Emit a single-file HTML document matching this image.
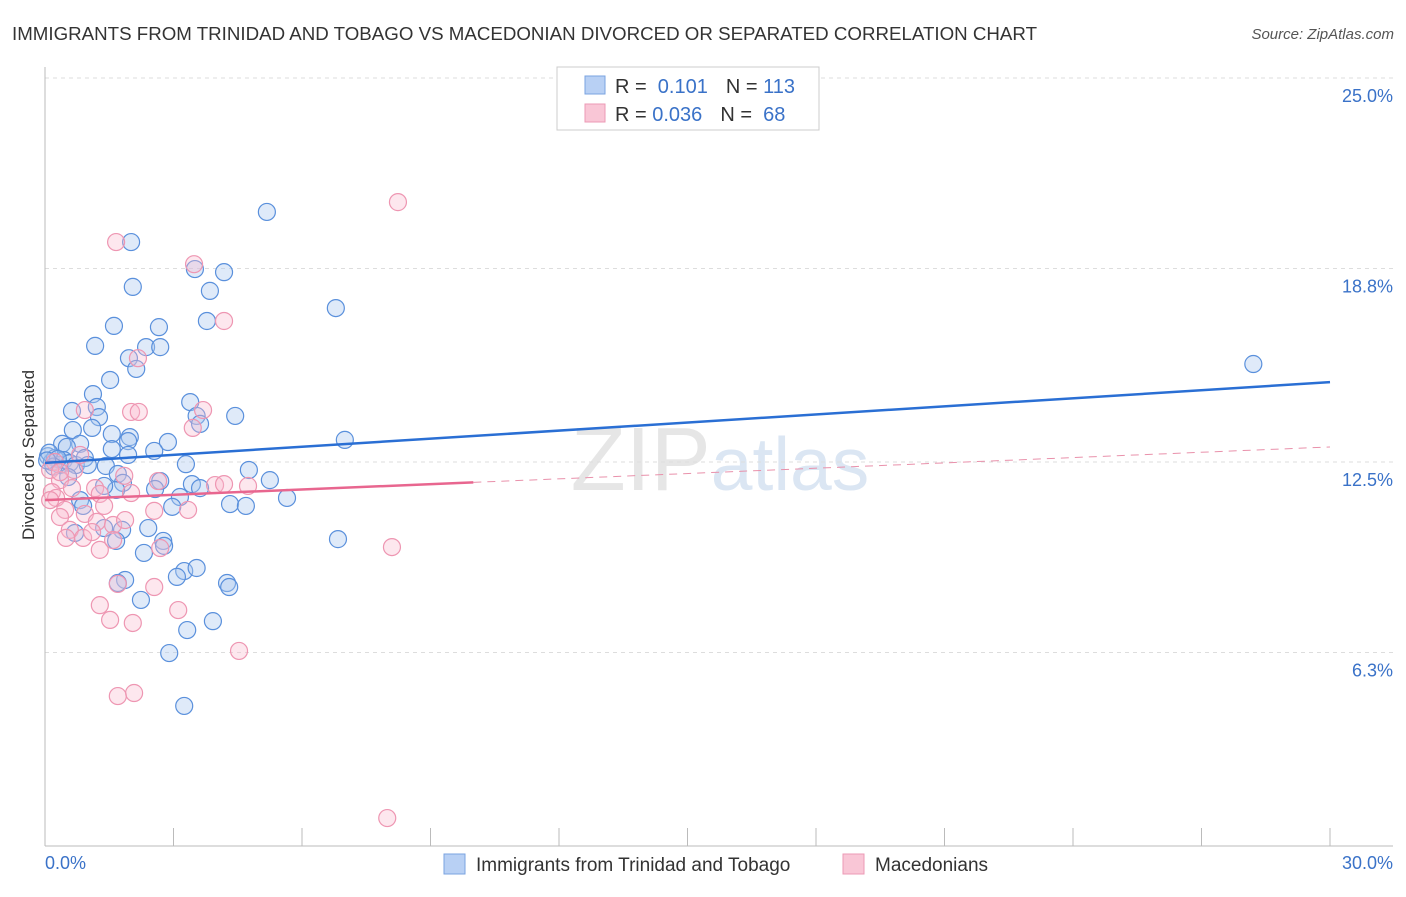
<!DOCTYPE html>
<html><head><meta charset="utf-8"><style>
body{margin:0;background:#fff;font-family:"Liberation Sans",sans-serif;}
svg text{font-family:"Liberation Sans",sans-serif;}
</style></head><body>
<svg width="1406" height="892" viewBox="0 0 1406 892">
<text x="12" y="40" font-size="18" fill="#333" textLength="1025" lengthAdjust="spacingAndGlyphs">IMMIGRANTS FROM TRINIDAD AND TOBAGO VS MACEDONIAN DIVORCED OR SEPARATED CORRELATION CHART</text>
<text x="1394" y="39" font-size="15" fill="#555" text-anchor="end" font-style="italic">Source: ZipAtlas.com</text>
<text x="720" y="490" font-size="90" fill="#e6e6e6" text-anchor="middle" font-family="Liberation Serif">ZIP<tspan fill="#dbe6f3" font-family="Liberation Sans" font-size="75">atlas</tspan></text>
<g id="grid"></g>
<g id="axes"></g>
<g id="marks"></g>
<g id="trends"></g>
<text transform="translate(34,455) rotate(-90)" font-size="17" fill="#333" text-anchor="middle">Divorced or Separated</text>
<text x="45" y="869" font-size="18" fill="#3a72c8">0.0%</text>
<text x="1393" y="869" font-size="18" fill="#3a72c8" text-anchor="end">30.0%</text>
<g>
<rect x="557" y="67" width="262" height="63" fill="#fff" stroke="#ccc"/>
<rect x="585" y="76" width="20" height="18" fill="#b8d0f4" stroke="#7aa3e0"/>
<rect x="585" y="104" width="20" height="18" fill="#f9c6d6" stroke="#ec9ab5"/>
<text x="615" y="93" font-size="20" fill="#333">R = <tspan fill="#3a72c8">&#160;0.101</tspan><tspan dx="18">N = </tspan><tspan fill="#3a72c8">113</tspan></text>
<text x="615" y="121" font-size="20" fill="#333">R = <tspan fill="#3a72c8">0.036</tspan><tspan dx="18">N = </tspan><tspan fill="#3a72c8">&#160;68</tspan></text>
</g>
<g>
<rect x="444" y="854" width="21" height="20" fill="#b8d0f4" stroke="#7aa3e0"/>
<text x="476" y="871" font-size="19" fill="#333">Immigrants from Trinidad and Tobago</text>
<rect x="843" y="854" width="21" height="20" fill="#f9c6d6" stroke="#ec9ab5"/>
<text x="875" y="871" font-size="19" fill="#333">Macedonians</text>
</g>
</svg>
<script>
const yTicks=[25.0,18.8,12.5,6.3];
const yTickLabels=["25.0%","18.8%","12.5%","6.3%"];
const xTicks=[3,6,9,12,15,18,21,24,27,30];
const blueX=[5.18,2.01,4.18,3.50,2.05,3.85,6.79,1.61,2.66,3.78,1.17,2.36,2.69,1.96,2.13,1.52,1.12,3.39,0.63,1.21,4.44,3.54,1.26,3.62,1.10,0.65,1.56,1.98,1.94,2.87,7.00,0.40,0.82,0.51,1.56,2.55,1.94,0.07,0.16,0.23,0.35,0.44,0.58,0.72,0.93,1.00,1.42,3.29,4.76,1.70,0.54,5.25,2.69,1.82,2.57,3.43,3.62,1.66,1.38,3.15,5.65,4.32,4.69,2.97,0.82,0.89,2.41,1.38,1.80,0.70,1.66,2.76,6.84,2.78,2.31,3.25,3.54,3.08,1.87,1.70,4.25,4.30,2.24,3.32,3.92,2.90,3.25,28.21,0.10,0.30,0.20,0.05];
const blueY=[20.64,19.66,18.68,18.78,18.20,18.07,17.51,16.93,16.89,17.09,16.28,16.24,16.24,15.88,15.53,15.17,14.71,14.45,14.16,14.29,14.00,14.00,13.96,13.74,13.61,13.54,13.41,13.31,13.18,13.15,13.22,13.09,13.09,12.99,12.92,12.86,12.73,12.69,12.50,12.63,12.40,12.56,12.47,12.40,12.63,12.40,12.37,12.43,12.24,12.11,12.01,11.91,11.88,11.82,11.62,11.78,11.65,11.59,11.72,11.36,11.33,11.13,11.07,11.04,11.26,11.07,10.35,10.35,10.29,10.19,9.93,9.93,9.99,9.77,9.54,8.95,9.05,8.76,8.66,8.56,8.56,8.43,8.01,7.03,7.32,6.28,4.56,15.69,12.80,12.60,12.35,12.55];
const pinkX=[8.24,1.66,3.48,4.18,2.17,2.01,2.19,0.93,3.69,3.45,0.23,0.12,0.35,0.16,0.26,0.63,1.17,1.28,1.85,2.01,2.64,3.97,4.18,4.74,3.34,2.55,1.38,0.47,0.35,0.93,1.21,1.59,1.87,0.58,0.89,0.49,1.10,1.28,1.59,2.69,8.10,1.70,2.55,1.28,3.11,1.52,2.05,4.53,2.08,1.70,7.99,0.68,0.82,0.35,0.12];
const pinkY=[20.96,19.66,18.94,17.09,15.88,14.13,14.13,14.19,14.19,13.61,12.50,12.24,11.91,11.52,11.33,11.65,11.65,11.46,12.05,11.49,11.88,11.75,11.78,11.72,10.94,10.91,11.07,10.94,10.71,10.81,10.55,10.45,10.61,10.29,10.03,10.03,10.22,9.64,9.96,9.70,9.73,8.53,8.43,7.84,7.68,7.36,7.26,6.35,4.98,4.88,0.91,12.24,12.73,12.17,11.26];
const blueTrend=[12.47,15.10];
const pinkTrend=[11.26,12.99];
const pinkSolidEnd=10;
const NS="http://www.w3.org/2000/svg";
const X=v=>45+v/30*1285;
const Y=v=>846-v/25*768;
function mk(tag,attrs,parent){const e=document.createElementNS(NS,tag);for(const k in attrs)e.setAttribute(k,attrs[k]);document.getElementById(parent).appendChild(e);return e;}
yTicks.forEach((t,i)=>{
 const g=mk('line',{x1:45,x2:1393,y1:Y(t),y2:Y(t),stroke:'#ddd','stroke-dasharray':'4,4'},'grid');
 
 
 const l=mk('text',{x:1393,y:Y(t)+24,'font-size':18,fill:'#3a72c8','text-anchor':'end'},'grid');
 l.textContent=yTickLabels[i];
 
 
});
const ax=mk('line',{x1:45,x2:45,y1:67,y2:846,stroke:'#bbb'},'axes');


const bx=mk('line',{x1:45,x2:1393,y1:846,y2:846,stroke:'#bbb'},'axes');


xTicks.forEach(t=>{
 const k=mk('line',{x1:X(t),x2:X(t),y1:828,y2:846,stroke:'#bbb'},'axes');
 
 
});
blueX.forEach((v,i)=>{
 const c=mk('circle',{cx:X(v),cy:Y(blueY[i]),r:8.5,fill:'rgba(170,200,240,0.38)',stroke:'#5a90dc','stroke-width':1.2},'marks');
 
 
});
pinkX.forEach((v,i)=>{
 const c=mk('circle',{cx:X(v),cy:Y(pinkY[i]),r:8.5,fill:'rgba(248,185,205,0.35)',stroke:'#ee96b2','stroke-width':1.2},'marks');
 
 
});
const bl=mk('line',{x1:X(0),y1:Y(blueTrend[0]),x2:X(30),y2:Y(blueTrend[1]),stroke:'#2a6fd4','stroke-width':2.5},'trends');


const pAt=x=>pinkTrend[0]+(pinkTrend[1]-pinkTrend[0])*x/30;
const pd=mk('line',{x1:X(pinkSolidEnd),y1:Y(pAt(pinkSolidEnd)),x2:X(30),y2:Y(pinkTrend[1]),stroke:'#e991ab','stroke-width':1,'stroke-dasharray':'8,6'},'trends');


const ps=mk('line',{x1:X(0),y1:Y(pinkTrend[0]),x2:X(pinkSolidEnd),y2:Y(pAt(pinkSolidEnd)),stroke:'#e8668f','stroke-width':2.5},'trends');


</script>
</body></html>
